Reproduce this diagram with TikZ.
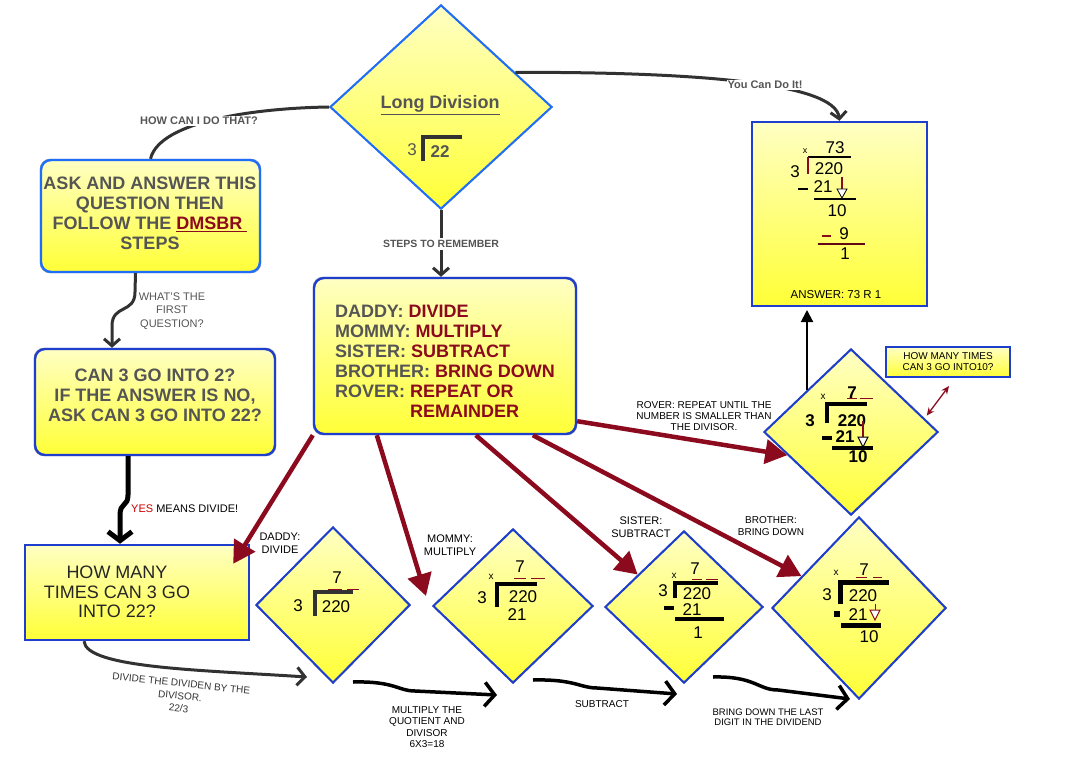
\documentclass[tikz,border=0pt]{standalone}
\usepackage{fontspec}
\setmainfont{Liberation Sans}
\usetikzlibrary{arrows.meta,positioning,calc,shapes.geometric,backgrounds}
\definecolor{boxblue}{RGB}{30,62,205}
\definecolor{brightblue}{RGB}{30,110,250}
\definecolor{darkred}{RGB}{140,10,30}
\definecolor{yesred}{RGB}{200,0,0}
\definecolor{textgrey}{RGB}{85,85,85}
\definecolor{inkgrey}{RGB}{50,50,50}
\definecolor{paleyellow}{RGB}{255,255,195}
\definecolor{deepyellow}{RGB}{255,255,55}
\definecolor{shadowgrey}{RGB}{165,165,165}

\begin{document}
\begin{tikzpicture}[x=1pt,y=-1pt,
  card/.style={draw=boxblue,line width=2.4pt,top color=paleyellow,bottom color=deepyellow,inner sep=0pt},
  roundcard/.style={card,rounded corners=10pt},
  gem/.style={card,diamond,line width=2pt},
  bigtext/.style={font=\bfseries\fontsize{18}{20}\selectfont,text=textgrey,align=center},
  lbl/.style={font=\fontsize{10.5}{12}\selectfont,align=center,inner sep=1pt},
  num/.style={font=\fontsize{17}{17}\selectfont,inner sep=0pt},
  bnum/.style={font=\bfseries\fontsize{17}{17}\selectfont,inner sep=0pt},
  tiny/.style={font=\fontsize{10}{10}\selectfont,inner sep=0pt},
  redarrow/.style={darkred,line width=4.5pt,-{Triangle[length=22pt,width=24pt]}},
  flow/.style={line width=3.5pt,-{Straight Barb[length=10pt,width=24pt]}},
  thin flow/.style={inkgrey,line width=3pt,-{Straight Barb[length=7pt,width=16pt]}},
]
\useasboundingbox (0,0) rectangle (1070,767);

% boxes and diamonds
\node[gem,draw=brightblue,minimum width=222,minimum height=204] (ld) at (441,107) {};
\node[card,minimum width=175,minimum height=184] (ans) at (839.5,214) {};
\node[roundcard,draw=brightblue,minimum width=219,minimum height=112] (ask) at (150.5,216) {};
\node[bigtext] (asktext) at (150,213)
  {ASK AND ANSWER THIS\\QUESTION THEN\\FOLLOW THE \textcolor{darkred}{\underline{DMSBR\ }}\\STEPS};
\node[roundcard,minimum width=240,minimum height=106] (can) at (155,402) {};
\node[bigtext] (cantext) at (155,395)
  {CAN 3 GO INTO 2?\\IF THE ANSWER IS NO,\\ASK CAN 3 GO INTO 22?};
\node[roundcard,minimum width=262,minimum height=156] (steps) at (445,356) {};
\node[bigtext,align=left] (stepstext) at (445,361)
  {DADDY: \textcolor{darkred}{DIVIDE}\\
   MOMMY: \textcolor{darkred}{MULTIPLY}\\
   SISTER: \textcolor{darkred}{SUBTRACT}\\
   BROTHER: \textcolor{darkred}{BRING DOWN}\\
   ROVER: \textcolor{darkred}{REPEAT OR}\\
   \hphantom{ROVER: }\textcolor{darkred}{REMAINDER}};
\node[card,minimum width=224,minimum height=95] (howmany) at (137,592.5) {};
\node[font=\fontsize{18}{19.5}\selectfont,align=center,text=black!85] (howmanytext) at (117,592)
  {HOW MANY\\TIMES CAN 3 GO\\INTO 22?};
\foreach \n/\x/\y/\w/\h in {d1/333/605/154/156,d2/513/606/160/154,d3/684/607/158/152,d4/859/608/174/182,d5/851/432/174/166}
  \node[gem,minimum width=\w,minimum height=\h] (\n) at (\x,\y) {};
\node[card,line width=2pt,minimum width=124,minimum height=30,font=\fontsize{10}{11}\selectfont,align=center] (tip) at (948,362)
  {HOW MANY TIMES\\CAN 3 GO INTO10?};

% shadows
\begin{scope}[on background layer,transform canvas={shift={(4pt,-4pt)}}]
  \foreach \n in {ld,d1,d2,d3,d4,d5}
    \fill[shadowgrey] (\n.north) -- (\n.east) -- (\n.south) -- (\n.west) -- cycle;
  \foreach \n in {ask,can,steps}
    \fill[shadowgrey,rounded corners=10pt] (\n.north west) rectangle (\n.south east);
  \foreach \n in {ans,howmany,tip}
    \fill[shadowgrey] (\n.north west) rectangle (\n.south east);
\end{scope}

% long division
\node[font=\bfseries\fontsize{18}{18}\selectfont,text=textgrey] (ldtitle) at (440,105) {\underline{Long Division}};
\node[num,text=textgrey] (ldsor) at (412,150) {3};
\node[bnum,text=textgrey] (lddend) at (440,152) {22};
\draw[inkgrey,line width=4pt] (423,161) -- (423,137) -- (462,137);

% answer
\node[tiny,font=\fontsize{9}{9}\selectfont] (ansx) at (805,151) {x};
\node[num] (ansq) at (835,148) {73};
\draw[line width=1.6pt] (808,157) -- (851,157);
\draw[darkred,line width=1.6pt] (808,157) -- (808,174);
\node[num] (anssor) at (795,172) {3};
\node[num] (ansdend) at (829,169) {220};
\draw[line width=1.6pt] (798,189) -- (808,189);
\node[num] (ansprod) at (823,187) {21};
\draw[darkred,line width=1.2pt] (842,177) -- (842,190);
\draw[fill=white,line width=0.8pt] (837,189) -- (847,189) -- (842,198) -- cycle;
\draw[line width=1.6pt] (814,199) -- (856,199);
\node[num] (ansdiff) at (837,211) {10};
\draw[darkred,line width=2.2pt] (822,236) -- (831,236);
\node[num] (ansprod2) at (844,234) {9};
\draw[darkred!70!black,line width=1.6pt] (818,244) -- (865,244);
\node[num] (ansrem) at (845,254) {1};
\node[font=\fontsize{11.5}{12}\selectfont] (ansline) at (836,295) {ANSWER: 73 R 1};

% divide
\node[num] (d1q) at (337,578) {7};
\draw[darkred,line width=1pt] (328,589) -- (342,589) (347,589) -- (359,589);
\draw[inkgrey,line width=4pt] (315,616) -- (315,592) -- (353,592);
\node[num] (d1sor) at (298,606) {3};
\node[num] (d1dend) at (336,607) {220};

% multiply
\node[tiny] (d2x) at (491,577) {x};
\node[num] (d2q) at (520,567) {7};
\draw[darkred,line width=1pt] (514,578) -- (526,578) (531,578) -- (545,578);
\draw[line width=4pt] (497,607) -- (497,584) -- (537,584);
\node[num] (d2sor) at (482,598) {3};
\node[num] (d2dend) at (523,597) {220};
\node[num] (d2prod) at (517,615) {21};

% subtract
\node[tiny] (d3x) at (674,576) {x};
\node[num] (d3q) at (695,569) {7};
\draw[darkred,line width=1pt] (692,579) -- (702,579) (706,579) -- (718,579);
\draw[line width=4pt] (675,598) -- (675,583) -- (718,583);
\node[num] (d3sor) at (663,591) {3};
\node[num] (d3dend) at (697,594) {220};
\draw[line width=4pt] (664,608) -- (674,608);
\node[num] (d3prod) at (692,610) {21};
\draw[line width=4pt] (675,619) -- (724,619);
\node[num] (d3diff) at (698,633) {1};

% bring down
\node[tiny] (d4x) at (836,573) {x};
\node[num] (d4q) at (864,570) {7};
\draw[darkred,line width=1pt] (856,577) -- (867,577) (873,577) -- (882,577);
\draw[line width=5pt] (840,604) -- (840,582) -- (889,582);
\node[num] (d4sor) at (827,595) {3};
\node[num] (d4dend) at (863,596) {220};
\fill (834,611) rectangle (840,617);
\node[num] (d4prod) at (858,615) {21};
\draw[darkred,line width=1pt] (875,604) -- (875,610);
\draw[darkred,fill=white,line width=1pt] (870,610) -- (880,610) -- (875,620) -- cycle;
\draw[line width=5pt] (841,625) -- (881,625);
\node[num] (d4diff) at (869,637) {10};

% repeat
\node[tiny] (d5x) at (823,397) {x};
\node[bnum] (d5q) at (852,393) {7};
\draw[darkred,line width=1pt] (847,398) -- (857,398) (860,398) -- (873,398);
\draw[line width=4pt] (827,423) -- (827,404) -- (867,404);
\node[bnum] (d5sor) at (810,421) {3};
\node[bnum] (d5dend) at (852,421) {220};
\draw[line width=3.5pt] (822,438) -- (832,438);
\node[bnum] (d5prod) at (845,437) {21};
\draw[darkred,line width=1.2pt] (863,421) -- (863,437);
\draw[fill=white,line width=1pt] (858,437) -- (868,437) -- (863,447) -- cycle;
\draw[line width=4pt] (832,448) -- (873,448);
\node[bnum] (d5diff) at (858,457) {10};

% connectors
\draw[inkgrey,line width=3pt] (ld.west) .. controls (260,108) and (160,120) .. (ask.north);
\node[font=\bfseries\fontsize{11}{11}\selectfont,text=textgrey,fill=white,inner sep=1pt] (howlbl) at (199,121) {HOW CAN I DO THAT?};
\draw[thin flow] (ld.25) .. controls (690,72) and (835,82) .. (ans.north);
\node[font=\bfseries\fontsize{11}{11}\selectfont,text=textgrey,fill=white,inner sep=1pt] (youlbl) at (765,85) {You Can Do It!};
\draw[thin flow] (ld.south) -- (ld.south |- steps.north);
\node[font=\bfseries\fontsize{10.5}{11}\selectfont,text=textgrey,fill=white,inner sep=2pt] (stepslbl) at (441,244) {STEPS TO REMEMBER};
\draw[thin flow] ([xshift=-15pt]ask.south) -- (135,292) .. controls (135,314) and (112,304) .. (112,326) -- ([xshift=-43pt]can.north);
\node[lbl,font=\fontsize{11}{13.5}\selectfont,text=textgrey] (firstlbl) at (172,311) {WHAT'S THE\\FIRST\\QUESTION?};
\draw[flow,line width=5pt,-{Straight Barb[length=9pt,width=24pt]}] ([xshift=-27pt]can.south) -- (128,495) .. controls (128,507) and (120,502) .. (120,515) -- ([xshift=-17pt]howmany.north);
\node[lbl,anchor=west,font=\fontsize{11}{11}\selectfont] (yeslbl) at (130,509) {\textcolor{yesred}{YES} MEANS DIVIDE!};
\draw[thin flow,-{Straight Barb[length=8pt,width=18pt]}] ([xshift=-53pt]howmany.south) .. controls (86,668) and (200,670) .. ([shift={(-26,-7)}]d1.south);
\node[lbl,font=\fontsize{10}{12.5}\selectfont,rotate=-6,text=inkgrey] (dividelbl) at (180,696) {DIVIDE THE DIVIDEN BY THE\\DIVISOR.\\22/3};
\draw[flow] ([shift={(20,-2)}]d1.south) .. controls (395,681) and (398,691) .. (415,691) -- ([shift={(-16,11)}]d2.south);
\node[lbl,font=\fontsize{10}{11.5}\selectfont] (multlbl) at (427,727) {MULTIPLY THE\\QUOTIENT AND\\DIVISOR\\6X3=18};
\draw[flow] ([shift={(20,-4)}]d2.south) .. controls (575,679) and (580,688) .. (597,688) -- ([shift={(-7,10)}]d3.south);
\node[lbl,font=\fontsize{10}{11}\selectfont] (sublbl) at (602,704) {SUBTRACT};
\draw[flow] ([shift={(29,-7)}]d3.south) .. controls (755,676) and (758,690) .. (778,690) -- ([shift={(-9,-1)}]d4.south);
\node[lbl,font=\fontsize{9.5}{10.5}\selectfont] (bringlbl) at (768,717) {BRING DOWN THE LAST\\DIGIT IN THE DIVIDEND};
\draw[line width=2pt,-{Triangle[length=12pt,width=12pt]}] (d5.north west) -- ++(0,-80);
\draw[darkred,line width=1.3pt,{Stealth[length=8pt,width=7pt]}-{Stealth[length=8pt,width=7pt]}] ([shift={(7,2)}]d5.15) -- ([shift={(1,8)}]tip.south);

% steps
\draw[redarrow] (steps.south west) -- ([shift={(-17,20)}]howmany.north east);
\draw[redarrow] ([xshift=64pt]steps.south west) -- ([shift={(-6,-10)}]d2.west);
\draw[redarrow] ([xshift=163pt]steps.south west) -- (d3.145);
\draw[redarrow] ([xshift=220pt]steps.south west) -- (d4.151);
\draw[redarrow] ([shift={(0,-14)}]steps.south east) -- (d5.200);
\node[lbl,font=\fontsize{11}{13}\selectfont] (daddylbl) at (280,543) {DADDY:\\DIVIDE};
\node[lbl,font=\fontsize{11}{13}\selectfont] (mommylbl) at (450,545) {MOMMY:\\MULTIPLY};
\node[lbl,font=\fontsize{11}{13}\selectfont] (sisterlbl) at (641,527) {SISTER:\\SUBTRACT};
\node[lbl,font=\fontsize{10}{12}\selectfont] (brotherlbl) at (771,526) {BROTHER:\\BRING DOWN};
\node[lbl,font=\fontsize{10}{11}\selectfont] (roverlbl) at (704,416) {ROVER: REPEAT UNTIL THE\\NUMBER IS SMALLER THAN\\THE DIVISOR.};
\end{tikzpicture}
\end{document}
